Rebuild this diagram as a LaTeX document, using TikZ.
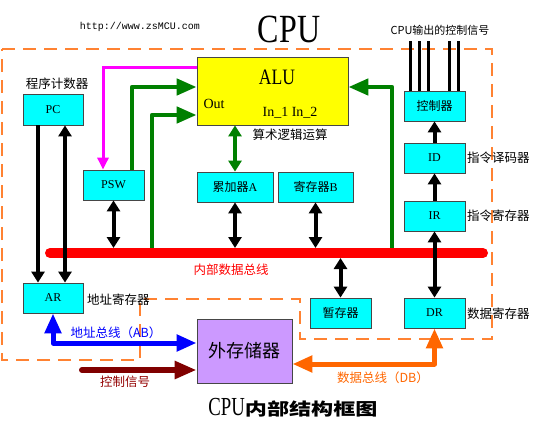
\documentclass[tikz,border=0pt]{standalone}
\usepackage{fontspec}
\setmainfont{Liberation Serif}
\setmonofont{Liberation Mono}
\newfontfamily\cjk{Noto Sans CJK SC}
\usetikzlibrary{arrows.meta}
\definecolor{cy}{RGB}{0,255,255}
\definecolor{yel}{RGB}{255,255,0}
\definecolor{pur}{RGB}{204,153,255}
\definecolor{bd}{RGB}{70,70,70}
\definecolor{grn}{RGB}{0,128,0}
\definecolor{dash}{RGB}{255,130,50}
\definecolor{dbus}{RGB}{255,102,0}
\definecolor{drd}{RGB}{128,0,0}
\definecolor{mag}{RGB}{255,0,255}
\definecolor{abl}{RGB}{0,0,255}
\tikzset{
  box/.style={draw=bd, fill=cy, line width=0.8pt, inner sep=0pt, font=\fontsize{12}{12}\selectfont},
  lbl/.style={inner sep=0pt, font=\cjk\fontsize{12.5}{12.5}\selectfont},
  TB/.tip={Triangle[length=11pt,width=13pt]},
  TG/.tip={Triangle[length=20pt,width=16pt]},
  TM/.tip={Triangle[length=12pt,width=11pt]},
  TL/.tip={Triangle[length=22pt,width=17pt]},
  blk/.style={line width=4pt, draw=black},
  grl/.style={line width=4.5pt, draw=grn, line join=round},
  outline/.style={draw=dash, line width=1.4pt, dash pattern=on 13pt off 8pt},
}
\begin{document}
\begin{tikzpicture}[x=1pt,y=-1pt]
\useasboundingbox (0,0) rectangle (534,422);
% titles
\node[inner sep=0pt] (title) at (289,29) {\scalebox{0.8}[1]{\fontsize{40}{40}\selectfont CPU}};
\node[inner sep=0pt, font=\ttfamily\fontsize{10}{10}\selectfont] (url) at (140,27) {http://www.zsMCU.com};
\node[lbl, font=\cjk\fontsize{11}{11}\selectfont] (cpuout) at (440,30) {CPU输出的控制信号};
\node[inner sep=0pt] (btitle) at (293,408) {\scalebox{0.72}[1]{\fontsize{26}{26}\selectfont CPU}\scalebox{1.3}[1]{\cjk\bfseries\fontsize{17}{17}\selectfont 内部结构框图}};
% dashed CPU outline
\draw[outline] (2,49) -- (492,49) -- (492,339) -- (300,339) -- (300,299) -- (140,299) -- (140,360) -- (2,360) -- cycle;
% boxes
\node[box, minimum width=60pt, minimum height=31pt] (pc) at (53,109.5) {PC};
\node[box, minimum width=61pt, minimum height=30pt] (psw) at (113.5,185) {PSW};
\node[box, fill=yel, minimum width=151pt, minimum height=68pt] (alu) at (272.5,91) {};
\node[box, minimum width=76pt, minimum height=30pt] (acc) at (235,187) {{\cjk 累加器}A};
\node[box, minimum width=75pt, minimum height=30pt] (regb) at (315.5,187) {{\cjk 寄存器}B};
\node[box, minimum width=61pt, minimum height=30pt] (ctl) at (434.5,106) {\cjk 控制器};
\node[box, minimum width=61pt, minimum height=30pt] (id) at (434.5,158) {ID};
\node[box, minimum width=61pt, minimum height=30pt] (ir) at (434.5,216) {IR};
\node[box, minimum width=61pt, minimum height=30pt] (dr) at (434.5,313) {DR};
\node[box, minimum width=61pt, minimum height=30pt] (tmp) at (340.5,313) {\cjk 暂存器};
\node[box, minimum width=60pt, minimum height=30pt] (ar) at (53,298) {AR};
\node[box, fill=pur, minimum width=95pt, minimum height=64pt, font=\cjk\fontsize{18}{18}\selectfont] (ext) at (244.5,351) {外存储器};
% ALU texts
\node[inner sep=0pt] (alut) at (277,77) {\scalebox{0.8}[1]{\fontsize{22}{22}\selectfont ALU}};
\node[inner sep=0pt, font=\fontsize{14}{14}\selectfont] (aluout) at (214,104) {Out};
\node[inner sep=0pt, font=\fontsize{14}{14}\selectfont] (aluin) at (290,113) {In\_1 In\_2};
% labels
\node[lbl] (l1) at (57,84) {程序计数器};
\node[lbl] (l2) at (290,135) {算术逻辑运算};
\node[lbl, anchor=west] (l3) at (467,158) {指令译码器};
\node[lbl, anchor=west] (l4) at (467,216) {指令寄存器};
\node[lbl, anchor=west] (l5) at (467,314) {数据寄存器};
\node[lbl, anchor=west] (l6) at (87,300) {地址寄存器};
\node[lbl, text=red] (l7) at (231,270) {内部数据总线};
\node[lbl, text=abl] (l8) at (116,333) {地址总线（AB）};
\node[lbl, text=drd!85!red] (l9) at (125,382) {控制信号};
\node[lbl, text=dbus] (l10) at (383,378) {数据总线（DB）};
% bus coordinates
\coordinate (busl) at (50,253);
\coordinate (busr) at (483,253);
\coordinate (bust) at (0,248);
\coordinate (busb) at (0,258);
\coordinate (g2) at (152,253);
\coordinate (g3) at (392,253);
% magenta and green paths
\draw[line width=3pt, draw=mag, -TM] ([yshift=23pt]alu.west) -| ([xshift=-10.5pt]psw.north);
\draw[grl, -TG] ([xshift=18.5pt]psw.north) |- ([yshift=4pt]alu.west);
\draw[grl, -TG] (g2) |- ([yshift=-24pt]alu.west);
\draw[grl, -TG] (g3) |- ([yshift=4pt]alu.east);
\draw[grl, TB-TB] (acc.north) -- (acc.north |- alu.south);
% bus
\draw[line width=10pt, draw=red, line cap=round] (busl) -- (busr);
% black connections
\draw[blk, -TB] ([xshift=-15pt]pc.south) -- ([xshift=-15pt]ar.north);
\draw[blk, TB-TB] ([xshift=12pt]pc.south) -- ([xshift=12pt]ar.north);
\draw[blk, TB-TB] (psw.south) -- (psw.south |- bust);
\draw[blk, TB-TB] (acc.south) -- (acc.south |- bust);
\draw[blk, TB-TB] (regb.south) -- (regb.south |- bust);
\draw[blk, TB-TB] (tmp.north) -- (tmp.north |- busb);
\draw[blk, TB-TB] (dr.north) -- (ir.south);
\draw[blk, -TB] (ir.north) -- (id.south);
\draw[blk, -TB] (id.north) -- (ctl.south);
% control signal lines
\foreach \dx in {-24.5,-15.5,-6.5,14.5,23.5}
  \draw[line width=3pt] ([xshift=\dx pt]ctl.north) -- ++(0,-50);
% address bus
\draw[line width=5pt, draw=abl, line join=round, TG-TG] (ar.south) |- ([yshift=8pt]ext.west);
% control signal into memory
\coordinate (cs) at (82,370);
\draw[line width=6pt, draw=drd, line cap=round, -TL] (cs) -- (cs -| ext.west);
% data bus
\draw[line width=5pt, draw=dbus, line join=round, TG-TG] ([yshift=-13pt]ext.east) -| (dr.south);
\end{tikzpicture}
\end{document}
